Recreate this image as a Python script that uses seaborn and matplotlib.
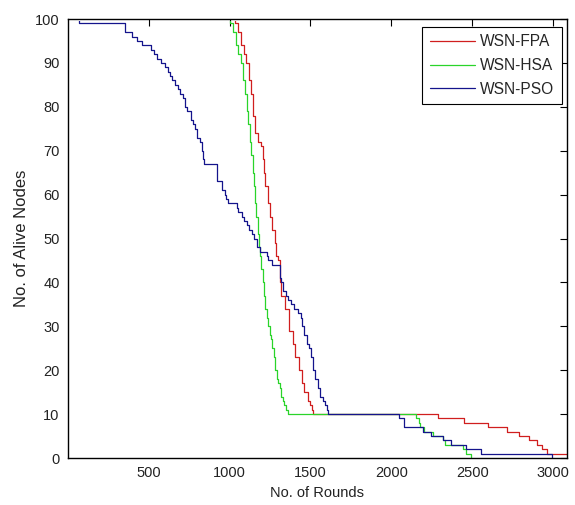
import numpy as np
import pandas as pd
import matplotlib
matplotlib.use("Agg")
import matplotlib.pyplot as plt
from matplotlib.transforms import Bbox, TransformedBbox
import seaborn as sns

# ---- data ----
fpa_rounds = [1, 1035, 1050, 1072, 1090, 1103, 1118, 1130, 1144, 1155, 1175, 1195, 1205,
              1215, 1222, 1235, 1247, 1262, 1278, 1290, 1298, 1309, 1312, 1316, 1340, 1370,
              1391, 1405, 1430, 1450, 1463, 1483, 1500, 1510, 1518, 2290, 2451, 2595, 2718,
              2790, 2852, 2903, 2934, 2965, 3086]
fpa_alive = [100, 99, 97, 94, 92, 90, 86, 83, 78, 74, 72, 71, 68,
             65, 62, 58, 55, 52, 49, 46, 45, 44, 40, 37, 34, 29,
             26, 23, 20, 17, 15, 13, 12, 11, 10, 9, 8, 7, 6,
             5, 4, 3, 2, 1, 1]

hsa_rounds = [1, 1000, 1020, 1041, 1055, 1072, 1085, 1093, 1105, 1113, 1125, 1134, 1142,
              1148, 1157, 1165, 1173, 1181, 1188, 1195, 1204, 1212, 1222, 1230, 1237, 1247,
              1257, 1265, 1273, 1283, 1292, 1300, 1309, 1320, 1329, 1338, 1346, 1360, 2152,
              2170, 2180, 2204, 2255, 2317, 2330, 2440, 2461, 2495]
hsa_alive = [100, 99, 97, 94, 92, 90, 86, 83, 79, 76, 72, 69, 65,
             62, 58, 55, 51, 48, 46, 43, 40, 37, 34, 32, 30, 28,
             27, 25, 23, 20, 18, 17, 16, 14, 13, 12, 11, 10, 9,
             8, 7, 6, 5, 4, 3, 2, 1, 0]

pso_rounds = [1, 70, 352, 395, 426, 457, 512, 530, 549, 575, 600, 617, 630, 642, 660, 679,
              695, 710, 722, 735, 759, 772, 784, 800, 815, 827, 833, 840, 920, 925, 950, 969,
              980, 988, 1043, 1055, 1075, 1090, 1105, 1123, 1140, 1154, 1170, 1185, 1230,
              1240, 1260, 1310, 1318, 1330, 1348, 1360, 1380, 1401, 1420, 1440, 1450, 1463,
              1480, 1494, 1505, 1514, 1525, 1545, 1560, 1576, 1590, 1600, 1607, 2050, 2080,
              2193, 2245, 2317, 2368, 2461, 2555, 2996]
pso_alive = [100, 99, 97, 96, 95, 94, 93, 92, 91, 90, 89, 88, 87, 86, 85, 84,
             83, 82, 80, 79, 77, 76, 75, 73, 72, 70, 68, 67, 65, 63, 61, 60,
             59, 58, 57, 56, 55, 54, 53, 52, 51, 50, 48, 47, 46,
             45, 44, 41, 40, 38, 37, 36, 35, 34, 33, 32, 30, 28,
             26, 25, 23, 20, 18, 16, 14, 13, 12, 11, 10, 9, 7,
             6, 5, 4, 3, 2, 1, 0]

series_names = ["WSN-FPA", "WSN-HSA", "WSN-PSO"]
series_colors = ["#d01e1e", "#2ad42a", "#14148c"]
x_ticks = [500, 1000, 1500, 2000, 2500, 3000]
y_ticks = list(range(0, 101, 10))

df = pd.concat([
    pd.DataFrame({"rounds": fpa_rounds, "alive": fpa_alive, "alg": series_names[0]}),
    pd.DataFrame({"rounds": hsa_rounds, "alive": hsa_alive, "alg": series_names[1]}),
    pd.DataFrame({"rounds": pso_rounds, "alive": pso_alive, "alg": series_names[2]}),
], ignore_index=True)

sns.set_theme(style="white")
plt.rcParams["font.family"] = ["Liberation Sans", "DejaVu Sans"]

fig = plt.figure(figsize=(5.75, 5.05), dpi=100)
ax = fig.add_axes([68 / 575, 47 / 505, (567 - 68) / 575, (458 - 19) / 505])

sns.lineplot(data=df, x="rounds", y="alive", hue="alg", hue_order=series_names,
             palette=series_colors, estimator=None, sort=False, drawstyle="steps-post",
             linewidth=0.9, legend=False, ax=ax)

# hide the part of the lines lying under the top frame (as in the reference)
clip = TransformedBbox(Bbox([[0, 0], [1, 0.996]]), ax.transAxes)
for ln in ax.get_lines():
    ln.set_clip_box(clip)

ax.set_xlim(1, 3086)
ax.set_ylim(0, 100)
ax.set_xticks(x_ticks)
ax.set_yticks(y_ticks)
ax.tick_params(direction="in", length=5, width=0.8, top=True, right=True,
               labelsize=10.5, colors="black", pad=6)
ax.tick_params(axis="both", labelcolor="#222222")
for s in ax.spines.values():
    s.set_visible(True)
    s.set_color("black")
    s.set_linewidth(1.0)
    s.set_zorder(5)

ax.set_xlabel("No. of Rounds", fontsize=10.5, color="#222222", labelpad=4)
ax.set_ylabel("No. of Alive Nodes", fontsize=12, color="#222222", labelpad=4)

leg = ax.legend(handles=ax.get_lines()[:3], labels=series_names, loc="upper right",
                bbox_to_anchor=(0.989, 0.9825), borderaxespad=0,
                fontsize=11.2, frameon=True, fancybox=False, edgecolor="black",
                framealpha=1, handlelength=2.9, handletextpad=0.3,
                labelspacing=0.55, borderpad=0.5)
leg.get_frame().set_linewidth(0.8)

fig.savefig("out.png", dpi=100, facecolor="white")
